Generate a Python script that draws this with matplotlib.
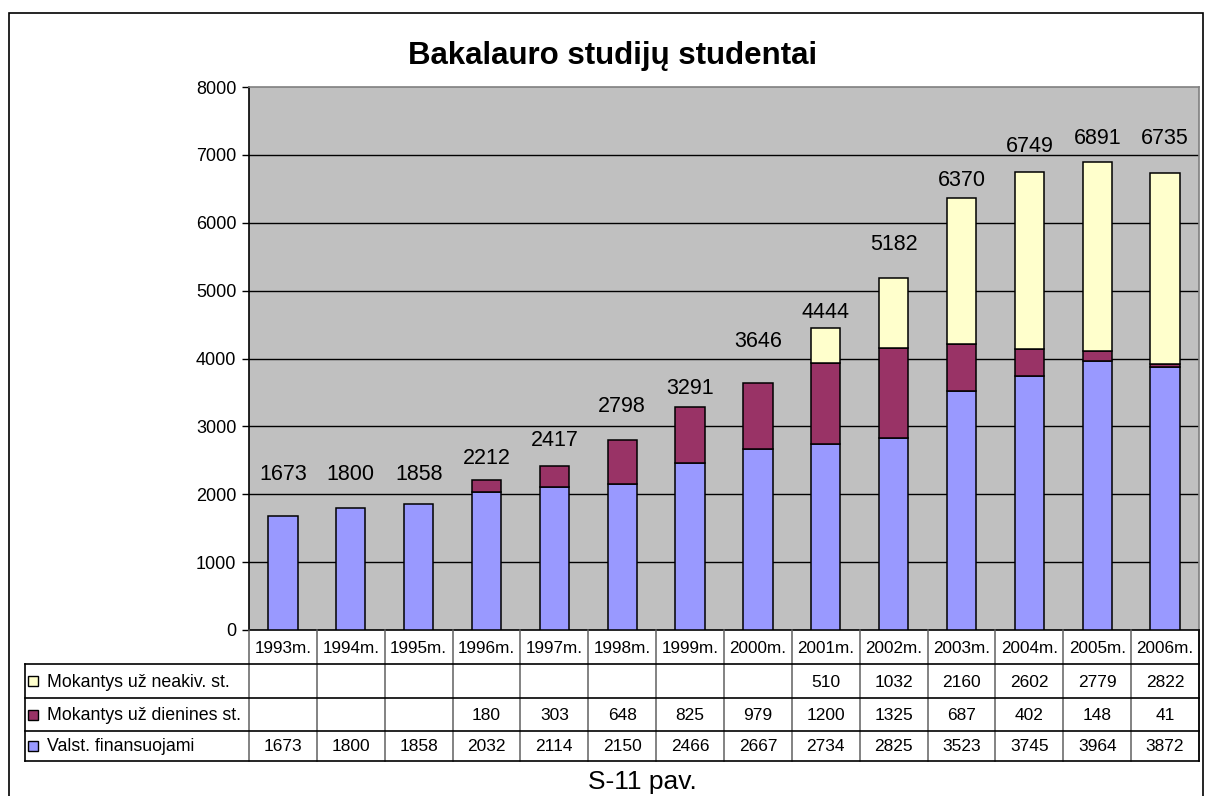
import matplotlib
matplotlib.use("Agg")
import matplotlib.pyplot as plt
from matplotlib.patches import Rectangle
import numpy as np

plt.rcParams["font.family"] = ["Liberation Sans", "DejaVu Sans"]

# ── data
years = ["1993m.", "1994m.", "1995m.", "1996m.", "1997m.", "1998m.", "1999m.",
         "2000m.", "2001m.", "2002m.", "2003m.", "2004m.", "2005m.", "2006m."]
valst = [1673, 1800, 1858, 2032, 2114, 2150, 2466, 2667, 2734, 2825, 3523, 3745, 3964, 3872]
dienines = [None, None, None, 180, 303, 648, 825, 979, 1200, 1325, 687, 402, 148, 41]
neakiv = [None, None, None, None, None, None, None, None, 510, 1032, 2160, 2602, 2779, 2822]
series_names = ["Valst. finansuojami", "Mokantys už dienines st.", "Mokantys už neakiv. st."]

# label baselines (layout, data units) - labels were placed by hand in the original
label_base = [2210, 2210, 2210, 2446, 2715, 3216, 3477, 4165, 4597, 5598, 6546, 7047, 7160, 7160]

C_BLUE, C_MAROON, C_YELLOW = "#9999FF", "#993366", "#FFFFCC"
colors = [C_BLUE, C_MAROON, C_YELLOW]

W, H = 1205, 796
fig = plt.figure(figsize=(W / 100, H / 100), dpi=100)
fig.patch.set_facecolor("white")

def fx(px): return px / W
def fy(py): return 1 - py / H

# outer chart border
fig.patches.append(Rectangle((fx(9), fy(830)), fx(1203) - fx(9), fy(13) - fy(830),
                             transform=fig.transFigure, fill=False, ec="black", lw=1.2))

# ── main plot
x0, x1, ytop, ybot = 249, 1199, 87, 630
ax = fig.add_axes([fx(x0), fy(ybot), fx(x1) - fx(x0), fy(ytop) - fy(ybot)])
ax.set_facecolor("#C0C0C0")
n = len(years)
x = np.arange(n)
vals = [np.array([v or 0 for v in s], dtype=float) for s in (valst, dienines, neakiv)]
bottom = np.zeros(n)
for v, c in zip(vals, colors):
    m = v > 0
    ax.bar(x[m], v[m], bottom=bottom[m], width=0.43, color=c, edgecolor="black", lw=1.1, zorder=3)
    bottom += v
totals = bottom

for i in range(n):
    ax.text(x[i], label_base[i], f"{int(totals[i])}", fontsize=15.5, ha="center", va="baseline", zorder=5)

ax.set_xlim(-0.5, n - 0.5)
ax.set_ylim(0, 8000)
ax.set_yticks(np.arange(0, 8001, 1000))
ax.tick_params(axis="y", direction="out", length=5, width=1, labelsize=13, pad=4, colors="black")
ax.set_xticks([])
for yv in range(1000, 8000, 1000):
    ax.axhline(yv, color="black", lw=1, zorder=1)
ax.spines["left"].set_color("black")
ax.spines["bottom"].set_color("black")
ax.spines["top"].set_color("#808080")
ax.spines["right"].set_color("#808080")
for s in ax.spines.values():
    s.set_linewidth(1.2)

# ── data table
tl, tb = 25, 761
cw = (x1 - x0) / n
left_ext = (x0 - tl) / cw
tax = fig.add_axes([fx(tl), fy(tb), fx(x1) - fx(tl), fy(ybot) - fy(tb)])
tax.set_xlim(-0.5 - left_ext, n - 0.5)
tax.set_ylim(tb, ybot)
tax.axis("off")
xl = -0.5 - left_ext
rows_y = [664, 698.3, 730.7, 761]

for i in range(n + 1):
    tax.plot([i - 0.5, i - 0.5], [ybot, tb], color="#606060", lw=1.1, clip_on=False)
tax.plot([n - 0.5, n - 0.5], [ybot, tb], color="black", lw=1.2, clip_on=False)
for yy in rows_y:
    tax.plot([xl, n - 0.5], [yy, yy], color="black", lw=1.2, clip_on=False)
tax.plot([xl, xl], [rows_y[0], tb], color="black", lw=1.2, clip_on=False)

for i, yl in enumerate(years):
    tax.text(i, (ybot + rows_y[0]) / 2 + 1, yl, fontsize=12.3, ha="center", va="center")

table_rows = [(neakiv, C_YELLOW, series_names[2]),
              (dienines, C_MAROON, series_names[1]),
              (valst, C_BLUE, series_names[0])]
sq = 10 / cw
for r, (vals_r, col, name) in enumerate(table_rows):
    yc = (rows_y[r] + rows_y[r + 1]) / 2
    tax.add_patch(Rectangle((xl + 3 / cw, yc - 5), sq, 10, fc=col, ec="black", lw=1, clip_on=False))
    tax.text(xl + 22 / cw, yc + 1, name, fontsize=12.8, ha="left", va="center")
    for i, v in enumerate(vals_r):
        if v is not None:
            tax.text(i, yc + 1, f"{v}", fontsize=12.5, ha="center", va="center")

fig.text(fx(613), fy(56), "Bakalauro studijų studentai", fontsize=22.5, fontweight="bold",
         ha="center", va="center")
fig.text(fx(642), fy(782), "S-11 pav.", fontsize=19, ha="center", va="center")

fig.savefig("out.png", dpi=100, facecolor="white")
